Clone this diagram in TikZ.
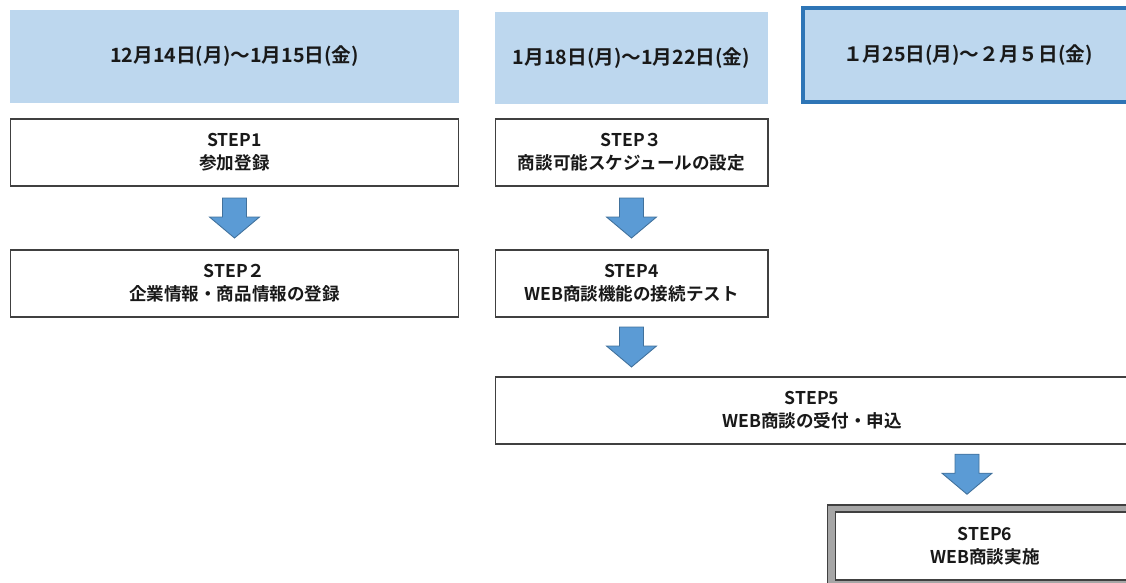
\documentclass[tikz,border=0pt]{standalone}
\usepackage{fontspec}
\setmainfont{Noto Sans CJK JP}[BoldFont={* Bold}]
\usetikzlibrary{calc, positioning}
\definecolor{datefill}{HTML}{BDD7EE}
\definecolor{dateline}{HTML}{2E75B6}
\definecolor{arrowfill}{HTML}{5B9BD5}
\definecolor{arrowline}{HTML}{41719C}
\definecolor{boxline}{HTML}{404040}
\definecolor{framefill}{HTML}{A6A6A6}

\begin{document}
\begin{tikzpicture}[x=0.02cm, y=-0.02cm, font=\bfseries\fontsize{10}{13}\selectfont, text=black!90]
	\tikzset{
		datebox/.style={fill=datefill, inner sep=0pt, outer sep=0pt, align=center, font=\bfseries\fontsize{11.2}{13}\selectfont},
		stepbox/.style={draw=boxline, fill=white, line width=0.6pt, inner sep=0pt, outer sep=0pt, minimum height=1.34cm, align=center},
		arrowbody/.style={fill=arrowfill, draw=arrowline, line width=0.5pt},
		downarr/.pic={\filldraw[arrowbody] (-12,-20) -- (12,-20) -- (12,-1) -- (25,-1) -- (0,20) -- (-25,-1) -- (-12,-1) -- cycle;}
	}
	\useasboundingbox (0,0) rectangle (1126,582);
	\clip (0,0) rectangle (1126,582);

	% dates
	\node[datebox, minimum width=8.98cm, minimum height=1.86cm] (d1) at (234.5,56.5) {12月14日(月)～1月15日(金)};
	\node[datebox, minimum width=5.46cm, minimum height=1.84cm] (d2) at (631.5,58) {1月18日(月)～1月22日(金)};
	\node[datebox, draw=dateline, line width=2.3pt, minimum width=6.6cm, minimum height=1.88cm] (d3) at (968,55) {１月25日(月)～２月５日(金)};

	% steps
	\node[stepbox, minimum width=8.98cm] (s1) at (234.5,152.5) {STEP1\\参加登録};
	\node[stepbox, minimum width=8.98cm] (s2) at (234.5,283.5) {STEP２\\企業情報・商品情報の登録};
	\node[stepbox, minimum width=5.46cm] (s3) at (631.5,152.5) {STEP３\\商談可能スケジュールの設定};
	\node[stepbox, minimum width=5.46cm] (s4) at (631.5,283.5) {STEP4\\WEB商談機能の接続テスト};
	\node[stepbox, minimum width=12.68cm] (s5) at (812,410.5) {STEP5\\WEB商談の受付・申込};
	\node[draw=boxline, fill=framefill, line width=0.6pt, inner sep=0pt, minimum width=6.32cm, minimum height=1.72cm] (s6frame) at (985,548) {};
	\node[stepbox, minimum width=6cm, minimum height=1.36cm] (s6) at (985,546) {STEP6\\WEB商談実施};

	% arrows
	\pic at ($(s1.south)!0.5!(s2.north)$) {downarr};
	\pic at ($(s3.south)!0.5!(s4.north)$) {downarr};
	\pic at ($(s4.south)!0.5!(s4.south |- s5.north)$) {downarr};
	\coordinate (m4) at ($(s6frame.north)!0.5!(s6frame.north |- s5.south)$);
	\pic at ([xshift=-0.36cm]m4) {downarr};
\end{tikzpicture}
\end{document}
